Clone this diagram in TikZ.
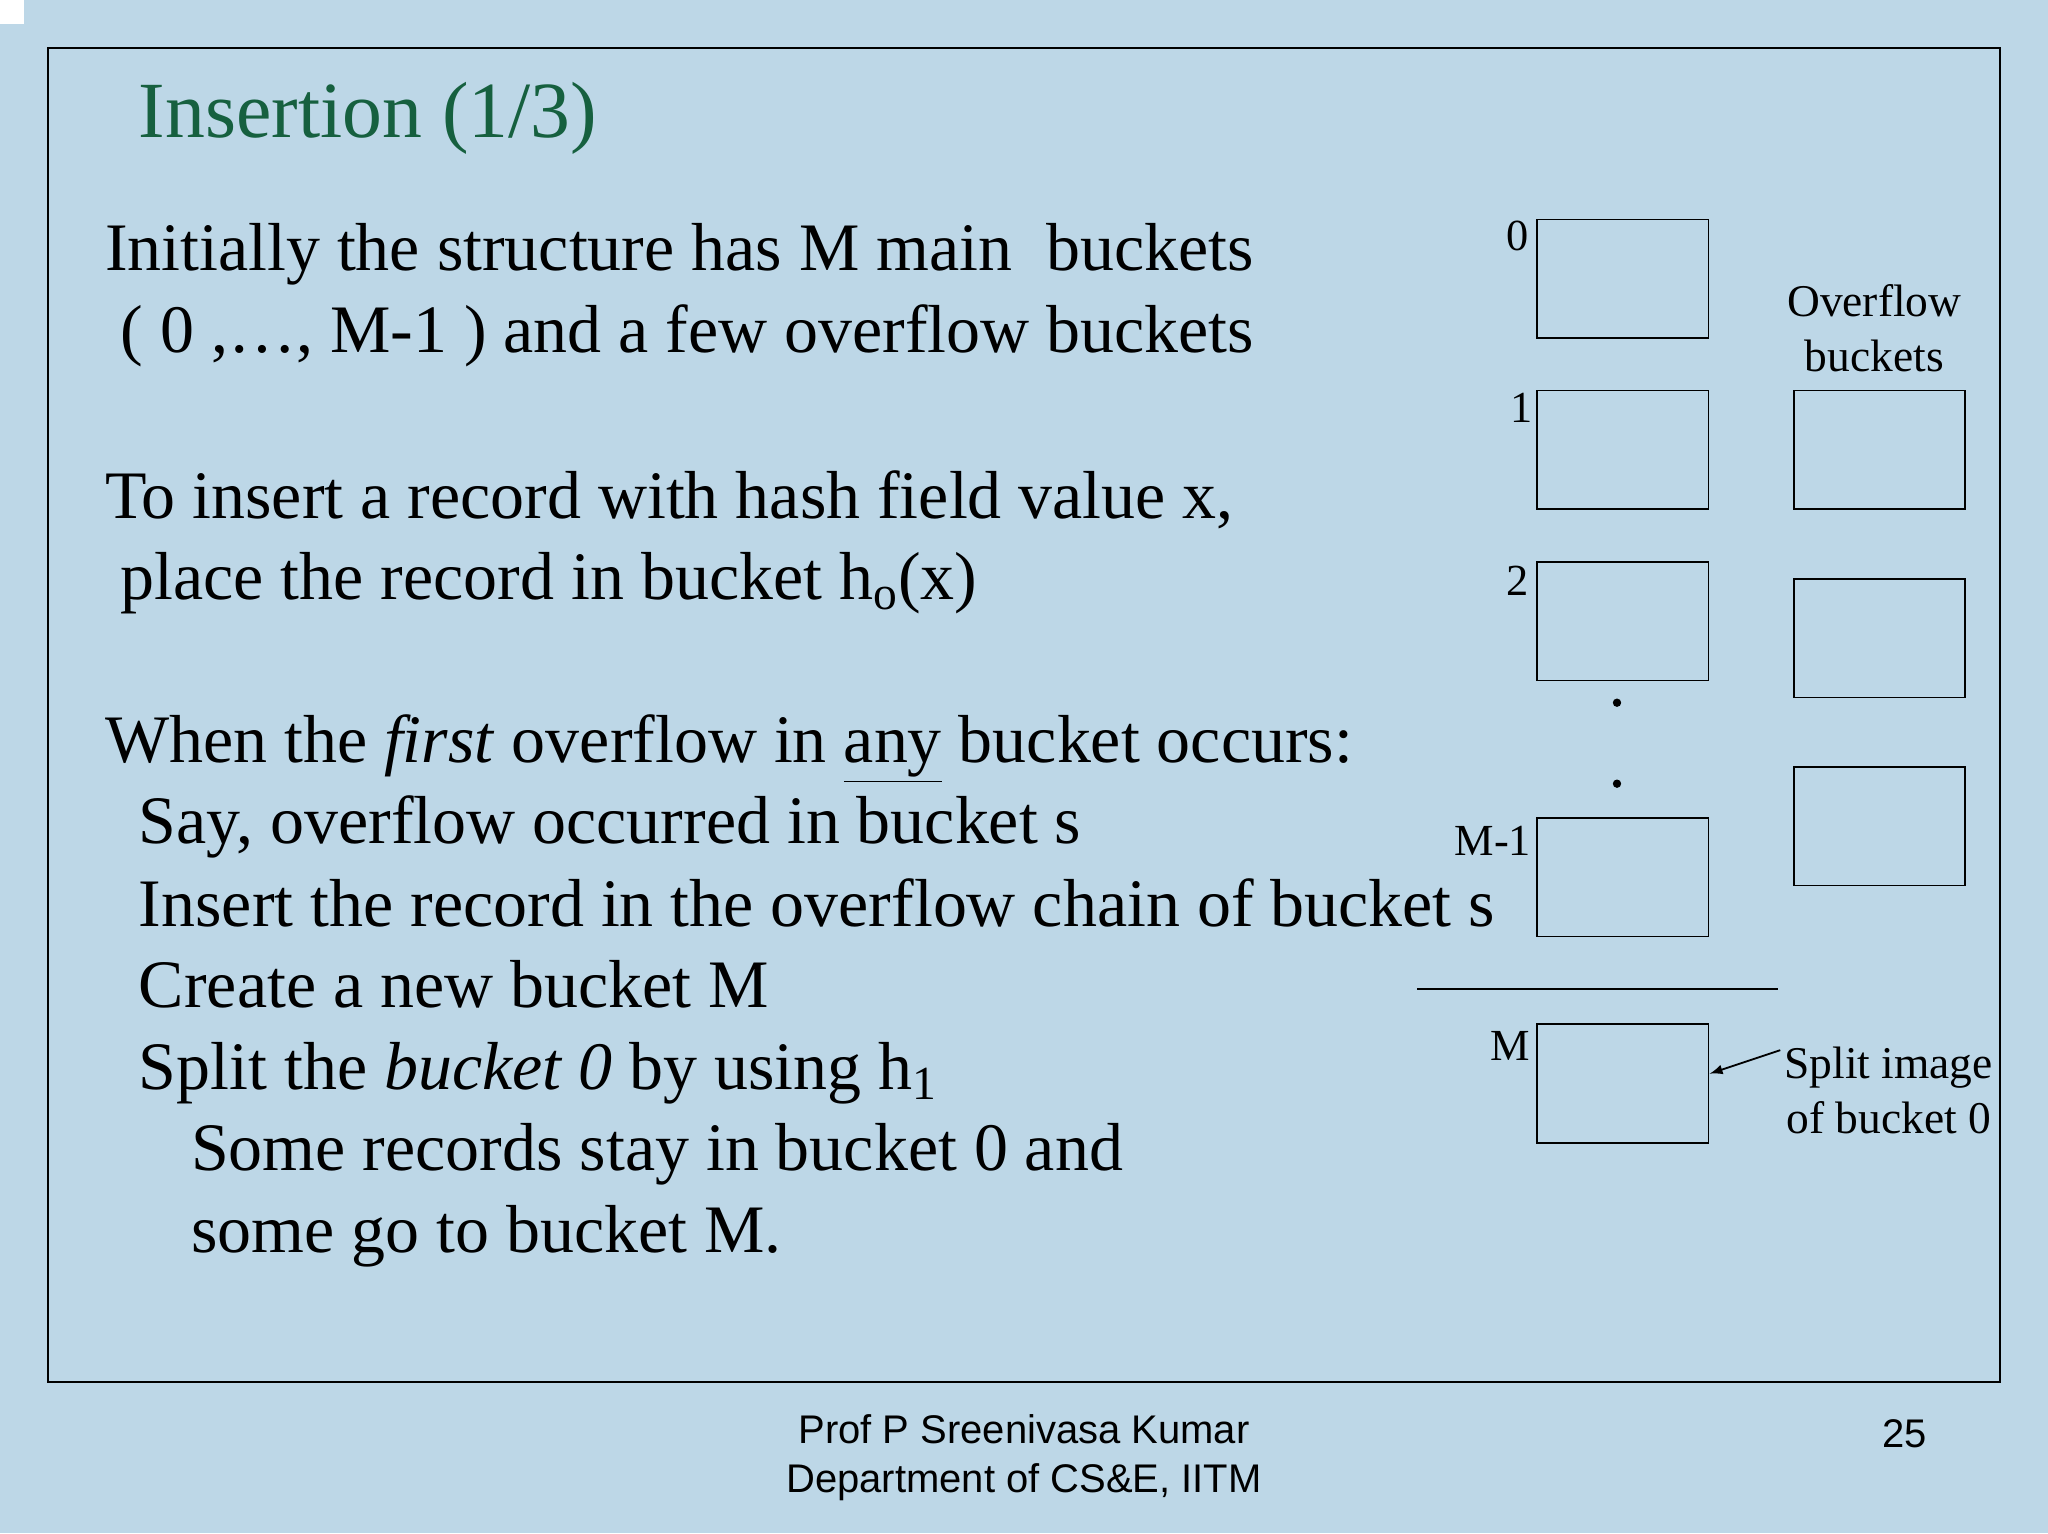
\documentclass[tikz,border=0pt]{standalone}
\usepackage{fontspec}
\setmainfont{Liberation Serif}
\newfontfamily\footfont{Liberation Sans}
\definecolor{bg}{HTML}{BDD7E7}
\definecolor{ttl}{HTML}{16603F}
\newcommand{\myul}[1]{\underline{#1}}
\begin{document}
\begin{tikzpicture}[x=0.5pt,y=-0.5pt,
  txt/.style={anchor=base west,inner sep=0pt,font=\fontsize{26}{30}\selectfont},
  bkt/.style={draw,line width=0.7pt,minimum width=65.5pt,minimum height=45.5pt,inner sep=0pt},
  lbl/.style={inner sep=0pt,font=\fontsize{17}{20}\selectfont},
  side/.style={inner sep=0pt,align=center,font=\fontsize{17.4}{21}\selectfont}]
\fill[bg] (0,0) rectangle (1568,1174);
\fill[white] (0,0) rectangle (18,18);
\draw[line width=0.8pt] (37,37) rectangle (1531,1058);
\node[anchor=base west,inner sep=0pt,text=ttl,font=\fontsize{30.5}{36}\selectfont] (title) at (106,105) {Insertion (1/3)};
\node[txt] (l1) at (80,207) {Initially the structure has M main\ \ buckets};
\node[txt] (l2) at (92,270) {( 0 ,…, M-1 ) and a few overflow buckets};
\node[txt] (l3) at (80,397) {To insert a record with hash field value x,};
\node[txt] (l4) at (92,459) {place the record in bucket h$_{\mathrm{o}}$(x)};
\node[txt] (l5) at (80,584) {When the \textit{first} overflow in \setlength{\fboxrule}{0pt}\myul{any} bucket occurs:};
\node[txt] (l6) at (106,646) {Say, overflow occurred in bucket s};
\node[txt] (l7) at (106,709) {Insert the record in the overflow chain of bucket s};
\node[txt] (l8) at (106,771) {Create a new bucket M};
\node[txt] (l9) at (106,834) {Split the \textit{bucket 0} by using h$_{\mathrm{1}}$};
\node[txt] (l10) at (146,896) {Some records stay in bucket 0 and};
\node[txt] (l11) at (146,959) {some go to bucket M.};
\node[bkt] (b0) at (1242.5,213.5) {};
\node[bkt] (b1) at (1242.5,344.5) {};
\node[bkt] (b2) at (1242.5,475.5) {};
\node[bkt] (bm1) at (1242.5,671.5) {};
\node[bkt] (bm) at (1242.5,829.5) {};
\node[bkt] (o1) at (1439,344.5) {};
\node[bkt] (o2) at (1439,488.5) {};
\node[bkt] (o3) at (1439,632.5) {};
\node[lbl] (n0) at (1162,181) {0};
\node[lbl] (n1) at (1165,312) {1};
\node[lbl] (n2) at (1162,445) {2};
\node[lbl] (nm1) at (1143,644) {M-1};
\node[lbl] (nm) at (1156,801) {M};
\fill (1238,538) circle (1.6pt);
\fill (1238,600) circle (1.6pt);
\draw[line width=0.7pt] (1085,757) -- (1361,757);
\node[side] (ovf) at (1435,251) {Overflow\\buckets};
\node[side] (split) at (1446,835) {Split image\\of bucket 0};
\coordinate (sa) at (1363,804);
\draw[line width=0.7pt,-latex] (sa) -- (1309,822);
\node[inner sep=0pt,align=center,font=\footfont\fontsize{15.3}{19}\selectfont] (foot) at (784,1116) {Prof P Sreenivasa Kumar\\Department of CS\&E, IITM};
\node[inner sep=0pt,font=\footfont\fontsize{15.3}{18}\selectfont] (pg) at (1458,1098) {25};
\end{tikzpicture}
\end{document}
